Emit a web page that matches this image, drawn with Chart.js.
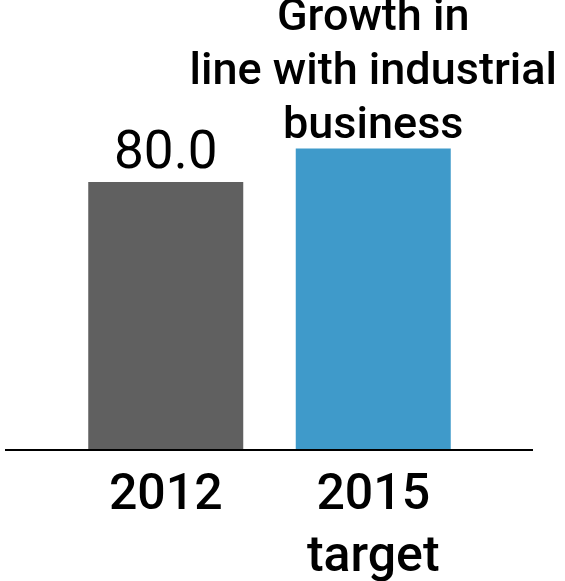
<!DOCTYPE html>
<html>
<head>
<meta charset="utf-8">
<script src="https://cdn.jsdelivr.net/npm/chart.js@4/dist/chart.umd.min.js"></script>
<style>
  html, body { margin: 0; padding: 0; background: #fff; }
  #chart { display: block; }
</style>
</head>
<body>
<canvas id="chart" width="565" height="581"></canvas>
<script>
const CATEGORIES = [['2012'], ['2015', 'target']];
const VALUES = [80.0, 90.0];
const BAR_LABELS = [['80.0'], ['Growth in', 'line with industrial', 'business']];
const BAR_COLORS = ['#606060', '#3f9aca'];

const FAMILY = 'Roboto, "Liberation Sans", Arial, sans-serif';

// text above each bar: a plain value on the first, a note on the second
const barLabels = {
    id: 'barLabels',
    afterDatasetsDraw(chart) {
        const ctx = chart.ctx;
        const styles = [
            { font: '400 53px ' + FAMILY, gap: 14, lh: 54 },
            { font: '500 45px ' + FAMILY, gap: 11, lh: 54 }
        ];
        chart.getDatasetMeta(0).data.forEach((bar, i) => {
            const lines = BAR_LABELS[i];
            const s = styles[i];
            ctx.save();
            ctx.font = s.font;
            ctx.fillStyle = '#000';
            ctx.textAlign = 'center';
            ctx.textBaseline = 'alphabetic';
            lines.forEach((line, j) => {
                const y = bar.y - s.gap - (lines.length - 1 - j) * s.lh;
                ctx.fillText(line, bar.x, y);
            });
            ctx.restore();
        });
    }
};

// baseline rule, wider than the bar area
const baseline = {
    id: 'baseline',
    afterDatasetsDraw(chart) {
        const ctx = chart.ctx;
        const y = chart.scales.y.getPixelForValue(0);
        ctx.save();
        ctx.strokeStyle = '#000';
        ctx.lineWidth = 2;
        ctx.beginPath();
        ctx.moveTo(5, y);
        ctx.lineTo(533, y);
        ctx.stroke();
        ctx.restore();
    }
};

new Chart(document.getElementById('chart'), {
    type: 'bar',
    data: {
        labels: CATEGORIES,
        datasets: [{
            data: VALUES,
            backgroundColor: BAR_COLORS,
            categoryPercentage: 1,
            barPercentage: 0.747
        }]
    },
    options: {
        responsive: false,
        animation: false,
        layout: { padding: { top: 115, left: 62, right: 88, bottom: 0 } },
        plugins: { legend: { display: false }, tooltip: { enabled: false } },
        scales: {
            x: {
                grid: { display: false, drawTicks: false },
                border: { display: false },
                afterFit(scale) { scale.height = 131; },
                ticks: {
                    color: '#000',
                    padding: 15,
                    font: { family: FAMILY, size: 50, weight: '500', lineHeight: 1.24 }
                }
            },
            y: { display: false, min: 0, max: 100 }
        }
    },
    plugins: [barLabels, baseline]
});
</script>
</body>
</html>
